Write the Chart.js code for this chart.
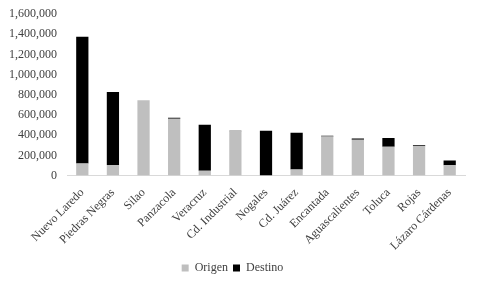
<!DOCTYPE html>
<html>
<head>
<meta charset="utf-8">
<script src="https://cdn.jsdelivr.net/npm/chart.js@4"></script>
<style>
 html, body { margin: 0; padding: 0; background: #fff; }
 #wrap { width: 480px; height: 288px; }
</style>
</head>
<body>
<div id="wrap"><canvas id="chart"></canvas></div>
<script>
var categories = [
 "Nuevo Laredo", "Piedras Negras", "Silao", "Panzacola", "Veracruz",
 "Cd. Industrial", "Nogales", "Cd. Juárez", "Encantada", "Aguascalientes",
 "Toluca", "Rojas", "Lázaro Cárdenas"
];
var origen = [120000, 105000, 745000, 563000, 47000, 440000, 0, 60000, 388000, 355000, 285000, 291000, 102000];
var destino = [1255000, 723000, 0, 10000, 457000, 5000, 444000, 364000, 6000, 13000, 86000, 10000, 47000];
var yTicks = [0, 200000, 400000, 600000, 800000, 1000000, 1200000, 1400000, 1600000];

var fontFamily = "'Liberation Serif', 'Times New Roman', serif";
var textColor = "#404040";

Chart.defaults.font.family = fontFamily;
Chart.defaults.font.size = 12;
Chart.defaults.color = textColor;

var ctx = document.getElementById("chart");

new Chart(ctx, {
 type: "bar",
 data: {
  labels: categories,
  datasets: [
   {
    label: "Origen",
    data: origen,
    backgroundColor: "#bfbfbf",
    barPercentage: 0.4,
    categoryPercentage: 1,
   },
   {
    label: "Destino",
    data: destino,
    backgroundColor: "#000000",
    barPercentage: 0.4,
    categoryPercentage: 1,
   },
  ],
 },
 options: {
  responsive: true,
  maintainAspectRatio: false,
  animation: false,
  layout: {
   padding: { top: 14, right: 15, left: 0, bottom: 4 },
  },
  plugins: {
   legend: {
    position: "bottom",
    labels: {
     boxWidth: 7,
     boxHeight: 7,
     padding: 5,
     color: textColor,
     font: { family: fontFamily, size: 12 },
    },
   },
   tooltip: { enabled: false },
  },
  scales: {
   x: {
    stacked: true,
    grid: { display: false, drawTicks: false },
    border: { color: "#d9d9d9", width: 1 },
    afterFit: function (axis) {
     axis.height -= 6;
    },
    ticks: {
     autoSkip: false,
     maxRotation: 45,
     minRotation: 45,
     padding: 10,
     color: textColor,
     font: { family: fontFamily, size: 12 },
    },
   },
   y: {
    stacked: true,
    min: 0,
    max: 1600000,
    afterBuildTicks: function (axis) {
     axis.ticks = yTicks.map(function (v) {
      return { value: v };
     });
    },
    afterFit: function (axis) {
     axis.width = 67;
     axis.paddingTop = 0;
    },
    grid: { display: false, drawTicks: false },
    border: { display: false },
    ticks: {
     padding: 10,
     color: textColor,
     font: { family: fontFamily, size: 12 },
     callback: function (v) {
      return Number(v).toLocaleString("en-US");
     },
    },
   },
  },
 },
});
</script>
</body>
</html>
